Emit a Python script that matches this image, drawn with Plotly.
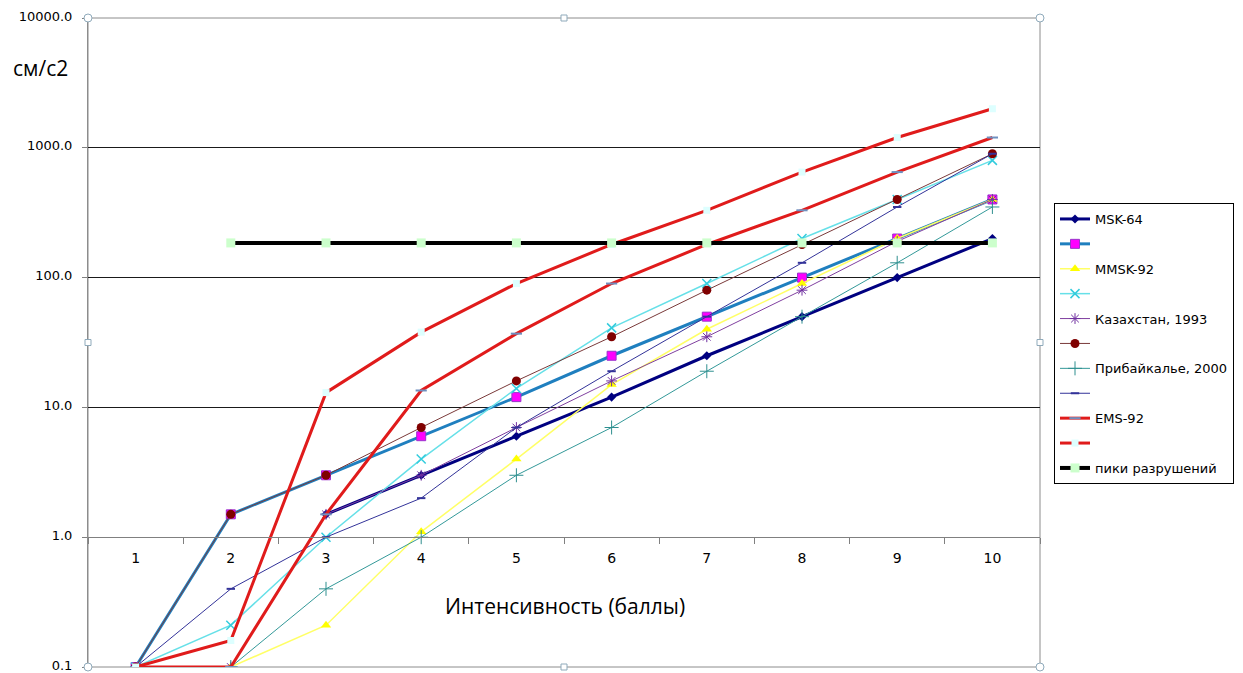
import plotly.graph_objects as go

categories = ["1", "2", "3", "4", "5", "6", "7", "8", "9", "10"]

msk64 = [None, None, 1.5, 3, 6, 12, 25, 50, 100, 200]
series2 = [0.1, 1.5, 3, 6, 12, 25, 50, 100, 200, 400]
mmsk92 = [None, 0.1, 0.21, 1.1, 4, 15, 40, 90, 200, 400]
series4 = [0.1, 0.21, 1.0, 4, 14, 41, 90, 200, 400, 800]
kazakhstan = [None, 0.1, 1.5, 3, 7, 16, 35, 80, 190, 400]
series6 = [0.1, 1.5, 3, 7, 16, 35, 80, 180, 400, 900]
pribaikalye = [None, 0.1, 0.4, 1.0, 3, 7, 19, 50, 130, 350]
series8 = [0.1, 0.4, 1.0, 2.0, 7, 19, 50, 130, 350, 900]
ems92 = [0.1, 0.1, 1.5, 13.5, 37, 90, 180, 330, 650, 1200]
series10 = [0.1, 0.16, 13, 38, 90, 180, 330, 650, 1200, 2000]
peaks = [None, 185, 185, 185, 185, 185, 185, 185, 185, 185]

y_tickvals = [0.1, 1, 10, 100, 1000, 10000]
y_ticktext = ["0.1", "1.0", "10.0", "100.0", "1000.0", "10000.0"]

specs = [
    ("MSK-64", msk64, dict(color="#000080", width=3), dict(symbol="diamond", size=7, color="#000080")),
    (" ", series2, dict(color="#1F7FBF", width=3), dict(symbol="square", size=9, color="#FF00FF", line=dict(color="#9933CC", width=1))),
    ("MMSK-92", mmsk92, dict(color="#FFFF66", width=1.5), dict(symbol="triangle-up", size=9, color="#FFFF00")),
    (" ", series4, dict(color="#66E0E8", width=1.5), dict(symbol="x-thin", size=9, color="#33CCDD", line=dict(color="#33CCDD", width=1.5))),
    ("Казахстан, 1993", kazakhstan, dict(color="#8040A0", width=1), dict(symbol="asterisk", size=9, color="#7030A0", line=dict(color="#7030A0", width=1))),
    (" ", series6, dict(color="#7A3A3A", width=1), dict(symbol="circle", size=9, color="#800000")),
    ("Прибайкалье, 2000", pribaikalye, dict(color="#339999", width=1), dict(symbol="cross-thin", size=10, color="#2F8F8F", line=dict(color="#2F8F8F", width=1))),
    (" ", series8, dict(color="#333399", width=1), dict(symbol="line-ew", size=6, color="#333399", line=dict(color="#333399", width=2))),
    ("EMS-92", ems92, dict(color="#E01B1B", width=3), dict(symbol="line-ew", size=8, color="#6F8FBF", line=dict(color="#6F8FBF", width=2))),
    (" ", series10, dict(color="#E01B1B", width=3), dict(symbol="square", size=7, color="#DDFFFF")),
    ("пики разрушений", peaks, dict(color="#000000", width=4), dict(symbol="square", size=9, color="#CCFFCC")),
]

fig = go.Figure()
for i, (name, vals, line, marker) in enumerate(specs):
    fig.add_trace(go.Scatter(
        x=categories, y=vals, name=name, mode="lines+markers",
        line=line, marker=marker, legendgroup=f"g{i}", connectgaps=False,
    ))

# page offset of the figure div (default body margin) is 8px
OFF = 8
W, H = 1243 - OFF, 673 - OFF
L, T, R, B = 88, 18, 1040, 667  # plot area in page pixels
pw, ph = R - L, B - T

shapes = [
    dict(type="rect", xref="paper", yref="paper", x0=0, x1=1, y0=0, y1=1,
         line=dict(color="#8C8C8C", width=1), layer="between"),
]
handles = [(0, 0, "circle"), (1, 0, "circle"), (0, 1, "circle"), (1, 1, "circle"),
           (0.5, 0, "rect"), (0.5, 1, "rect"), (0, 0.5, "rect"), (1, 0.5, "rect")]
for hx, hy, kind in handles:
    r = 4 if kind == "circle" else 3
    shapes.append(dict(type=kind, xref="paper", yref="paper",
                       xsizemode="pixel", ysizemode="pixel",
                       xanchor=hx, yanchor=hy, x0=-r, x1=r, y0=-r, y1=r,
                       line=dict(color="#8FAABB", width=1), fillcolor="white",
                       layer="above"))

fig.update_layout(
    width=W, height=H,
    margin=dict(l=L - OFF, r=W - (R - OFF), t=T - OFF, b=H - (B - OFF)),
    paper_bgcolor="white", plot_bgcolor="white",
    font=dict(family="DejaVu Sans, Liberation Sans, Arial", color="black", size=14),
    showlegend=True,
    legend=dict(x=(1054 - L) / pw, xanchor="left", y=(B - 203) / ph, yanchor="top",
                bordercolor="black", borderwidth=1, bgcolor="white",
                font=dict(size=13, family="DejaVu Sans"),
                tracegroupgap=5, itemwidth=30),
    xaxis=dict(type="category", range=[-0.5, 9.5], anchor="free", position=0.2,
               showline=True, linecolor="#808080", linewidth=1, automargin=False,
               ticks="outside", tickson="boundaries", ticklen=6, tickcolor="#808080",
               showgrid=False, zeroline=False, ticklabelstandoff=8,
               tickfont=dict(size=14, family="DejaVu Sans")),
    yaxis=dict(type="log", range=[-1.00001, 4.00001], tickvals=y_tickvals, ticktext=y_ticktext,
               showgrid=True, gridcolor="#1A1A1A", gridwidth=1, automargin=False,
               showline=True, linecolor="#8C8C8C", zeroline=False,
               ticks="outside", ticklen=5, tickcolor="#808080",
               ticklabeloverflow="allow", ticklabelshift=-2,
               ticklabelstandoff=7, tickfont=dict(size=13, family="DejaVu Sans")),
    shapes=shapes,
    annotations=[
        dict(text="см/с2", xref="paper", yref="paper", x=(40 - L) / pw, y=(B - 68) / ph,
             xanchor="center", yanchor="middle", showarrow=False,
             font=dict(size=21, family="Open Sans")),
        dict(text="Интенсивность (баллы)", xref="paper", yref="paper",
             x=(565 - L) / pw, y=(B - 606) / ph, xanchor="center", yanchor="middle",
             showarrow=False, font=dict(size=21, family="Open Sans")),
    ],
)

fig.write_html("out.html")
